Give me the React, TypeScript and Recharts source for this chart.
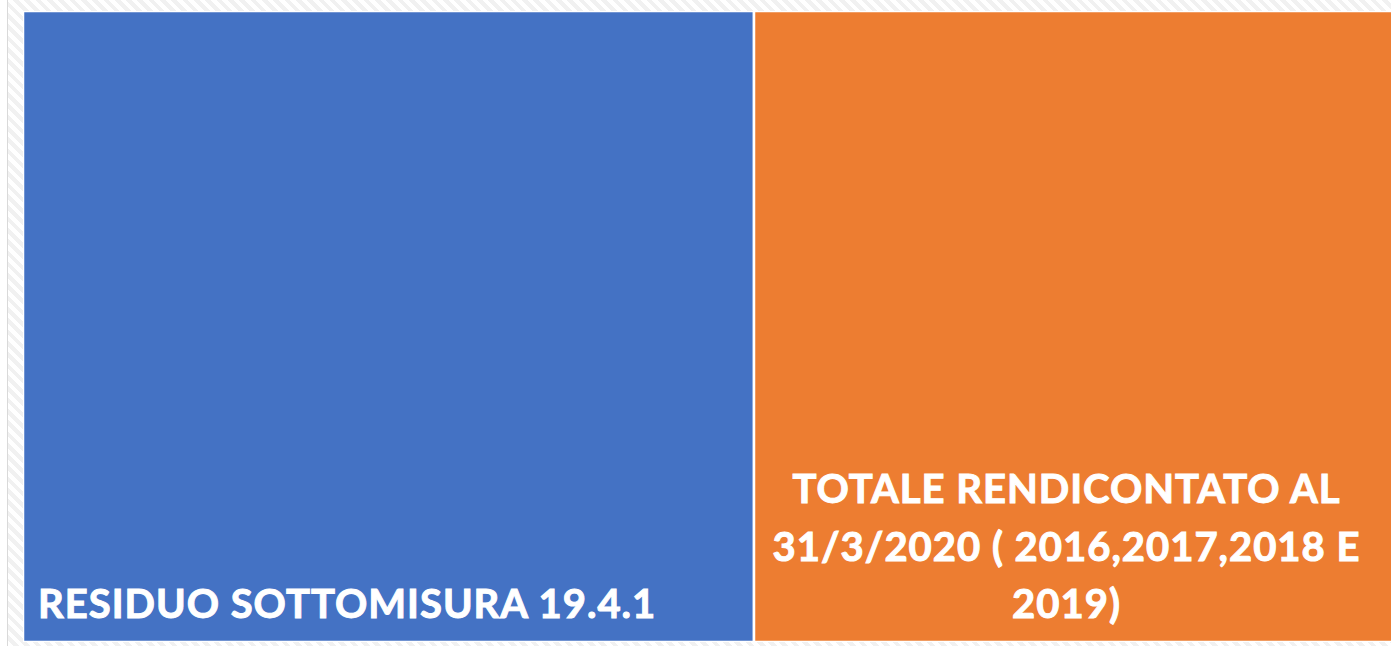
import { Treemap } from 'recharts';

const names = ['RESIDUO SOTTOMISURA 19.4.1', 'TOTALE RENDICONTATO AL 31/3/2020 ( 2016,2017,2018 E 2019)'];
const values = [53.3, 46.7];
const colors = ['#4472C4', '#ED7D31'];
const labelLines = [
  ['RESIDUO SOTTOMISURA 19.4.1'],
  ['TOTALE RENDICONTATO AL', '31/3/2020 ( 2016,2017,2018 E', '2019)'],
];

const data = names.map((n, i) => ({ name: n, value: values[i], color: colors[i], lines: labelLines[i], idx: i }));

function Cell(props: any) {
  const { x, y, width, height, depth, color, lines, idx } = props;
  if (depth !== 1) return null;
  const fs = 40;
  const lh = 57.5;
  const bottom = y + height - 24;
  const left = idx === 0;
  return (
    <g>
      <rect x={x} y={y} width={width} height={height} fill={color} stroke='#fff' strokeWidth={2.5} />
      {(lines || []).map((t: string, i: number) => (
        <text key={i}
          x={left ? x + 15 : x + width / 2 - 8}
          y={bottom - (lines.length - 1 - i) * lh}
          textAnchor={left ? 'start' : 'middle'}
          fill='#fff' fontSize={fs} fontWeight='bold' letterSpacing={1}
          fontFamily='Lato, "Open Sans", sans-serif'>{t}</text>
      ))}
    </g>
  );
}

export default function App() {
  return (
    <div style={{ position: 'fixed', left: 7, top: 0, width: 1384, height: 646,
      borderLeft: '1px solid #d9d9d9', overflow: 'hidden',
      background: 'repeating-linear-gradient(45deg, #ffffff 0 4px, #f1f1f1 4px 8px)' }}>
      <div style={{ position: 'absolute', left: 15, top: 11 }}>
        <Treemap width={1372} height={631} data={data} dataKey='value'
          isAnimationActive={false} stroke='#fff' content={<Cell />} />
      </div>
    </div>
  );
}
